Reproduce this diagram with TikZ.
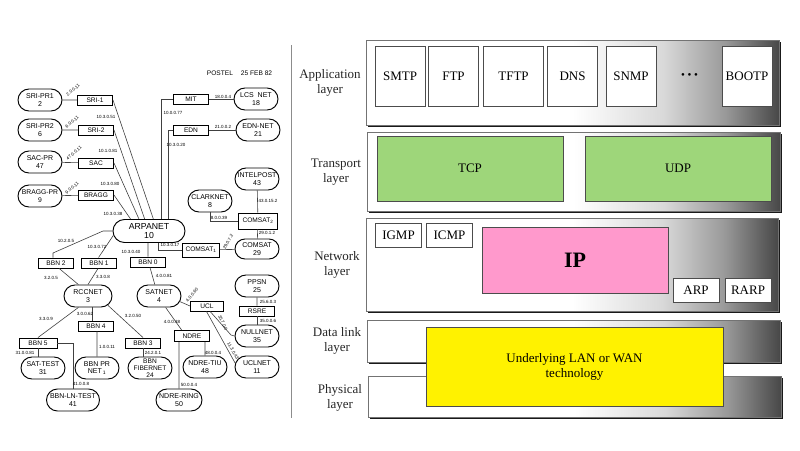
\documentclass[tikz,border=0pt]{standalone}
\usepackage{fontspec}
\setmainfont{Liberation Serif}
\newfontfamily\netfont{Liberation Sans}
\usetikzlibrary{shapes.misc,shadows}

\pgfdeclarehorizontalshading{panelfade}{100bp}{color(0bp)=(white); color(50bp)=(white); color(61bp)=(black!15); color(68.5bp)=(black!40); color(75bp)=(black!72); color(100bp)=(black!72)}

\definecolor{tcpgreen}{HTML}{9ED67A}
\definecolor{ippink}{HTML}{FF99CC}

\tikzset{
  net/.style={rounded rectangle, draw, line width=0.95pt, minimum width=44pt, minimum height=22pt, inner sep=0pt, align=center, font=\netfont\fontsize{7}{7.6}\selectfont},
  imp/.style={rectangle, draw, line width=0.95pt, minimum width=35pt, minimum height=10pt, inner sep=0pt, font=\netfont\fontsize{6.6}{7.6}\selectfont},
  lab/.style={inner sep=0pt, font=\netfont\fontsize{4.5}{5}\selectfont},
  wire/.style={line width=0.6pt, black!75},
  panel/.style={rectangle, draw=black!55, line width=0.6pt, shading=panelfade, inner sep=0pt, drop shadow={shadow xshift=2pt, shadow yshift=-2pt, fill=black!90, opacity=1}},
  proto/.style={rectangle, draw=black!70, line width=0.6pt, fill=white, inner sep=0pt, font=\fontsize{13}{15}\selectfont},
  layername/.style={inner sep=0pt, align=center, font=\fontsize{13}{15}\selectfont, text=black!85}
}

\begin{document}
\begin{tikzpicture}[x=1pt,y=-1pt]
  \useasboundingbox (0,0) rectangle (800,450);

  % Network map
  \node[net, minimum width=72pt, minimum height=23pt, font=\netfont\fontsize{8.7}{9.8}\selectfont] (arpanet) at (149,231) {ARPANET\\10};
  \node[net] (sripr1) at (40,100) {SRI-PR1\\2};
  \node[net] (sripr2) at (40,130) {SRI-PR2\\6};
  \node[net] (sacpr) at (40,162) {SAC-PR\\47};
  \node[net, font=\netfont\fontsize{6.8}{7.6}\selectfont] (braggpr) at (40,196) {BRAGG-PR\\9};
  \node[net] (lcsnet) at (256,99) {LCS\ \ NET\\18};
  \node[net] (ednnet) at (258,130) {EDN-NET\\21};
  \node[net] (intelpost) at (257,179) {INTELPOST\\43};
  \node[net] (clarknet) at (210,201) {CLARKNET\\8};
  \node[net, minimum height=20pt] (comsatnet) at (257,249) {COMSAT\\29};
  \node[net] (ppsn) at (257,286) {PPSN\\25};
  \node[net] (nullnet) at (257,336) {NULLNET\\35};
  \node[net] (uclnet) at (257,367) {UCLNET\\11};
  \node[net, minimum width=48pt] (rccnet) at (88,296) {RCCNET\\3};
  \node[net] (satnet) at (159,296) {SATNET\\4};
  \node[net] (sattest) at (43,368) {SAT-TEST\\31};
  \node[net] (bbnprnet) at (97,368) {BBN PR\\NET\,\textsubscript{1}};
  \node[net, font=\netfont\fontsize{6.6}{7}\selectfont] (fibernet) at (150,368) {BBN\\FIBERNET\\24};
  \node[net] (ndretiu) at (205,367) {NDRE-TIU\\48};
  \node[net, minimum width=53pt] (lntest) at (73,400) {BBN-LN-TEST\\41};
  \node[net, minimum width=46pt] (ndrering) at (179,400) {NDRE-RING\\50};

  \node[imp] (sri1) at (95,100) {SRI-1};
  \node[imp] (sri2) at (96,130) {SRI-2};
  \node[imp] (sac) at (96,163) {SAC};
  \node[imp] (bragg) at (96,195) {BRAGG};
  \node[imp] (mit) at (191,99) {MIT};
  \node[imp] (edn) at (191,130) {EDN};
  \node[imp, minimum width=39pt, minimum height=16pt] (comsat2) at (258,221) {COMSAT\textsubscript{2}};
  \node[imp, minimum width=37pt, minimum height=14pt] (comsat1) at (201,250) {COMSAT\textsubscript{1}};
  \node[imp] (rsre) at (257,311) {RSRE};
  \node[imp, minimum width=33pt] (ucl) at (207,306) {UCL};
  \node[imp] (bbn0) at (148,262) {BBN 0};
  \node[imp] (bbn1) at (99,263) {BBN 1};
  \node[imp] (bbn2) at (56,263) {BBN 2};
  \node[imp] (bbn3) at (143,343) {BBN 3};
  \node[imp] (bbn4) at (96,326) {BBN 4};
  \node[imp, minimum width=38pt] (bbn5) at (38,343) {BBN 5};
  \node[imp, minimum height=11pt] (ndre) at (192,336) {NDRE};

  \coordinate (bendwest) at (103,231);
  \coordinate (bendtwo) at (53,253);

  \draw[wire] (sripr1) -- (sri1);
  \draw[wire] (sripr2) -- (sri2);
  \draw[wire] (sacpr) -- (sac);
  \draw[wire] (braggpr) -- (bragg);
  \draw[wire] (sri1.east) -- (arpanet.70);
  \draw[wire] (sri2.east) -- (arpanet.110);
  \draw[wire] (sac.east) -- (arpanet.130);
  \draw[wire] (bragg.east) -- (arpanet.147);
  \draw[wire] (mit.west) -| (arpanet.45);
  \draw[wire] (edn.west) -| (arpanet.32);
  \draw[wire] (mit) -- (lcsnet);
  \draw[wire] (edn) -- (ednnet);
  \draw[wire] (intelpost) -- (comsat2);
  \draw[wire] (clarknet.south) |- (comsat2.west);
  \draw[wire] (comsat2) -- (comsatnet);
  \draw[wire] (arpanet.-52) |- (comsat1.west);
  \draw[wire] (comsat1) -- (comsatnet);
  \draw[wire] (arpanet.west) -- (bendwest) -- (bendtwo) -- (bendtwo |- bbn2.north);
  \draw[wire] (arpanet.187) -- (bbn1.95);
  \draw[wire] (arpanet.-95) -- (bbn0.north);
  \draw[wire] (bbn0.-70) -- (satnet.110);
  \draw[wire] (bbn2.-60) -- (rccnet.130);
  \draw[wire] (bbn1.-100) -- (rccnet.north);
  \draw[wire] (rccnet.-130) -- (bbn5.north);
  \draw[wire] (rccnet.-70) -- (rccnet.-70 |- bbn4.north);
  \draw[wire] (rccnet.-25) -- (bbn3.north);
  \draw[wire] (bbn4.south -| bbnprnet) -- (bbnprnet);
  \draw[wire] (bbn5.south) -- (bbn5.south |- sattest.north);
  \draw[wire] (bbn5.east) -| (lntest.north);
  \draw[wire] (bbn3) -- (bbn3 |- fibernet.north);
  \draw[wire] (satnet.-15) -- (ucl.west);
  \draw[wire] (satnet.-60) -- (ndre.150);
  \draw[wire] (ndre.south -| ndrering) -- (ndrering);
  \draw[wire] (ndre.south -| ndretiu) -- (ndretiu);
  \draw[wire] (ucl.-60) -- (231,335) -- (nullnet.west);
  \draw[wire] (ucl.-95) -- (uclnet.170);
  \draw[wire] (ppsn) -- (rsre);
  \draw[wire] (rsre) -- (nullnet);

  \node[lab, rotate=40] (l1) at (73,90) {2.0.0.11};
  \node[lab, rotate=40] (l2) at (72,122) {6.0.0.11};
  \node[lab, rotate=40] (l3) at (74,153) {47.0.0.11};
  \node[lab, rotate=40] (l4) at (72,188) {9.0.0.11};
  \node[lab] (l5) at (106,117) {10.3.0.51};
  \node[lab] (l6) at (108,151) {10.1.0.81};
  \node[lab] (l7) at (110,184) {10.3.0.80};
  \node[lab] (l8) at (113,214) {10.3.0.38};
  \node[lab] (l9) at (223,97) {18.0.0.4};
  \node[lab] (l10) at (223,127) {21.0.0.2};
  \node[lab] (l11) at (173,113) {10.0.0.77};
  \node[lab] (l12) at (176,145) {10.3.0.20};
  \node[lab] (l13) at (268,201) {43.0.15.2};
  \node[lab] (l14) at (219,218) {8.0.0.39};
  \node[lab] (l15) at (170,245) {10.3.0.17};
  \node[lab] (l16) at (267,233) {29.0.1.2};
  \node[lab, rotate=60] (l17) at (228,242) {29.0.7.2};
  \node[lab] (l18) at (131,252) {10.3.0.40};
  \node[lab] (l19) at (66,241) {10.2.0.5};
  \node[lab] (l20) at (97,247) {10.3.0.72};
  \node[lab] (l21) at (51,278) {3.2.0.5};
  \node[lab] (l22) at (103,277) {3.3.0.8};
  \node[lab] (l23) at (46,319) {3.3.0.9};
  \node[lab] (l24) at (85,314) {3.0.0.62};
  \node[lab] (l25) at (133,316) {3.2.0.50};
  \node[lab] (l26) at (25,353) {31.0.0.81};
  \node[lab] (l27) at (107,347) {1.0.0.11};
  \node[lab] (l28) at (81,384) {41.0.0.8};
  \node[lab] (l29) at (153,353) {24.2.0.1};
  \node[lab] (l30) at (164,276) {4.0.0.81};
  \node[lab, rotate=50] (l31) at (192,295) {4.0.0.60};
  \node[lab] (l32) at (172,322) {4.0.0.38};
  \node[lab] (l33) at (268,302) {25.6.0.3};
  \node[lab] (l34) at (268,321) {35.0.0.6};
  \node[lab, rotate=-65] (l35) at (223,323) {35.7.0.0};
  \node[lab, rotate=-60] (l36) at (233,351) {11.3.0.43};
  \node[lab] (l37) at (213,353) {48.0.0.4};
  \node[lab] (l38) at (189,385) {50.0.0.4};
  \node[inner sep=0pt, font=\netfont\fontsize{6.6}{7.6}\selectfont] (postel) at (239.5,73) {POSTEL\hspace{8pt}25 FEB 82};

  % Separator
  \coordinate (septop) at (291.5,45);
  \coordinate (sepbot) at (291.5,418);
  \draw[black!45, line width=0.7pt] (septop) -- (sepbot);

  % Layers
  \node[panel, minimum width=413pt, minimum height=85pt] (applayer) at (572.5,82.5) {};
  \node[panel, minimum width=413pt, minimum height=79pt] (translayer) at (573.5,171.5) {};
  \node[panel, minimum width=412pt, minimum height=93pt] (netlayer) at (572,264.5) {};
  \node[panel, minimum width=413pt, minimum height=42pt] (linklayer) at (573.5,341) {};
  \node[panel, minimum width=413pt, minimum height=41pt] (phylayer) at (574.5,396.5) {};

  \node[layername] (appname) at (330,83) {Application\\layer};
  \node[layername] (transname) at (336,172) {Transport\\layer};
  \node[layername] (netname) at (337,265) {Network\\layer};
  \node[layername] (linkname) at (337,340.5) {Data link\\layer};
  \node[layername] (phyname) at (340,397.5) {Physical\\layer};

  % Protocols
  \node[proto, minimum width=50pt, minimum height=60pt] (smtp) at (400,76) {SMTP};
  \node[proto, minimum width=49.5pt, minimum height=60pt] (ftp) at (453.5,76) {FTP};
  \node[proto, minimum width=60pt, minimum height=60pt] (tftp) at (513.5,76) {TFTP};
  \node[proto, minimum width=50pt, minimum height=60pt] (dns) at (572.5,76) {DNS};
  \node[proto, minimum width=50pt, minimum height=60pt] (snmp) at (631,76) {SNMP};
  \node[inner sep=0pt, font=\fontsize{11}{13}\selectfont] (dots) at (689.5,76) {\textbullet\hspace{2.6pt}\textbullet\hspace{2.6pt}\textbullet};
  \node[proto, minimum width=50pt, minimum height=60pt] (bootp) at (747,76) {BOOTP};

  \node[proto, fill=tcpgreen, minimum width=186pt, minimum height=65pt] (tcp) at (470,168.5) {TCP};
  \node[proto, fill=tcpgreen, minimum width=186pt, minimum height=65pt] (udp) at (678,168.5) {UDP};

  \node[proto, minimum width=45.5pt, minimum height=24pt] (igmp) at (398.5,235) {IGMP};
  \node[proto, minimum width=45.5pt, minimum height=24pt] (icmp) at (449.5,235) {ICMP};
  \node[proto, fill=ippink, minimum width=186pt, minimum height=66pt, font=\bfseries\fontsize{22}{24}\selectfont] (ip) at (575,260) {IP};
  \node[proto, minimum width=46pt, minimum height=23.5pt] (arp) at (696,290.5) {ARP};
  \node[proto, minimum width=46pt, minimum height=23.5pt] (rarp) at (748,290.5) {RARP};

  \node[proto, fill=yellow, align=center, minimum width=297pt, minimum height=79pt] (lanwan) at (574.5,366.5) {Underlying LAN or WAN\\technology};
\end{tikzpicture}
\end{document}
